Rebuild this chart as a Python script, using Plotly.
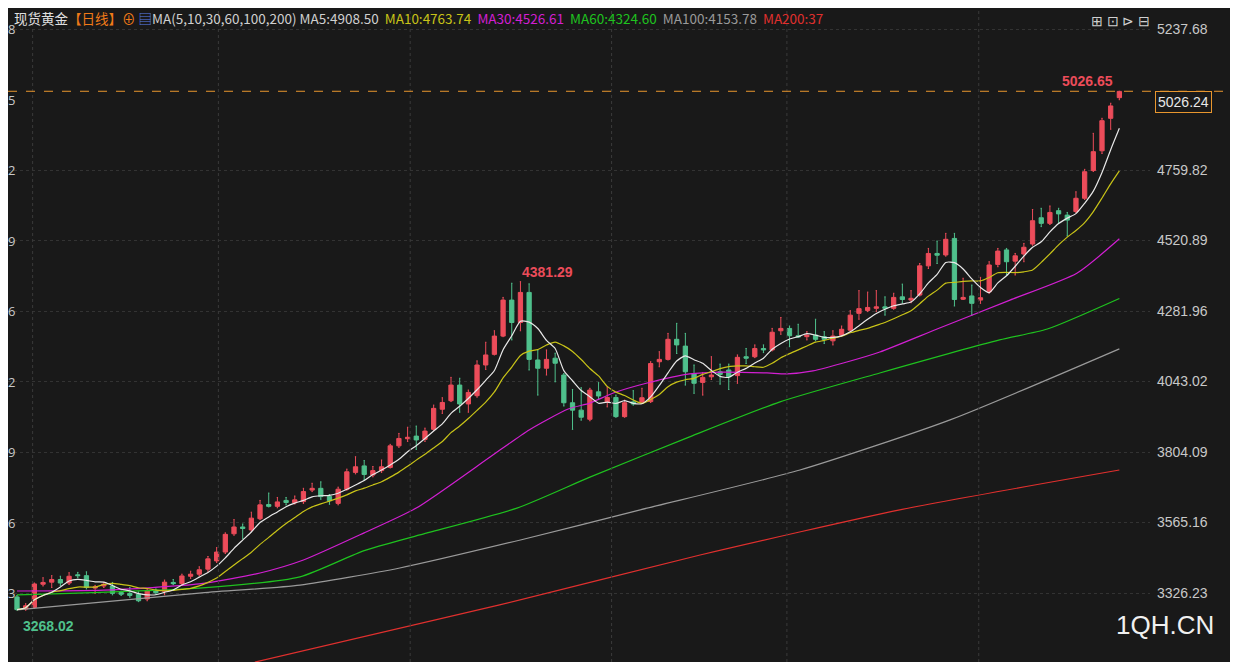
import plotly.graph_objects as go
import pandas as pd

opens = [3313,3272,3277,3356,3363,3372,3360,3388,3385,3343,3350,3350,3328,3325,3322,3306,3335,3332,3362,3358,
         3383,3390,3407,3435,3465,3527,3550,3540,3578,3626,3620,3640,3632,3636,3675,3681,3653,3630,3678,3735,
         3757,3726,3741,3752,3825,3849,3858,3847,3881,3949,3978,4031,3967,3995,4099,4135,4197,4319,4243,4345,
         4116,4088,4122,4065,3971,3946,3915,4008,3974,3989,3924,3974,3971,3975,4110,4118,4186,4163,4070,4040,
         4059,4076,4082,4063,4127,4127,4155,4150,4215,4223,4198,4195,4200,4195,4181,4200,4217,4274,4284,4291,
         4296,4291,4330,4319,4336,4435,4477,4472,4528,4322,4333,4319,4347,4440,4489,4451,4475,4509,4598,4579,
         4622,4607,4619,4664,4758,4825,4935,5005]
highs = [3318,3290,3360,3378,3385,3383,3395,3396,3398,3352,3362,3362,3333,3345,3330,3340,3340,3370,3372,3390,
         3400,3415,3450,3480,3530,3575,3560,3600,3640,3665,3650,3650,3655,3681,3698,3703,3660,3685,3746,3788,
         3775,3755,3777,3830,3867,3888,3892,3885,3963,3988,4057,4054,4014,4113,4176,4215,4328,4376,4381.29,4374,
         4150,4150,4139,4070,4016,4022,4020,4039,4025,3997,3980,4012,4020,4110,4144,4206,4240,4206,4099,4073,
         4127,4102,4102,4133,4155,4167,4167,4223,4260,4231,4237,4212,4254,4212,4215,4231,4283,4351,4346,4351,
         4330,4342,4373,4351,4443,4494,4519,4545,4545,4393,4370,4396,4449,4494,4494,4477,4511,4626,4630,4638,
         4630,4616,4686,4762,4884,4935,4986,5026.65]
lows = [3268.02,3268,3275,3350,3345,3352,3355,3378,3340,3325,3345,3320,3318,3312,3297,3300,3322,3320,3355,3355,
        3376,3385,3400,3430,3460,3522,3510,3535,3575,3618,3615,3625,3628,3630,3670,3644,3627,3625,3675,3730,
        3709,3720,3735,3750,3820,3840,3813,3840,3878,3935,3975,3939,3939,3990,4084,4133,4195,4184,4215,4082,
        3997,4065,4042,3960,3881,3912,3910,3985,3957,3922,3922,3963,3969,3972,4093,4116,4138,4031,4003,3997,
        4050,4034,4016,4037,4104,4124,4141,4147,4203,4161,4193,4184,4181,4172,4167,4197,4214,4254,4280,4280,
        4268,4288,4310,4310,4333,4426,4443,4468,4299,4321,4268,4308,4342,4432,4404,4404,4449,4505,4568,4575,
        4579,4536,4616,4660,4755,4816,4898,4998]
closes = [3270,3283,3357,3362,3372,3360,3383,3385,3345,3347,3356,3325,3322,3318,3300,3335,3327,3363,3358,3384,
          3390,3405,3442,3465,3525,3550,3545,3580,3625,3620,3635,3633,3642,3670,3681,3653,3639,3678,3737,3754,
          3728,3741,3754,3825,3850,3854,3845,3875,3952,3972,4031,3967,4006,4099,4133,4197,4319,4243,4345,4118,
          4088,4118,4105,3971,3946,3922,4014,3994,3989,3924,3971,3967,3988,4104,4118,4186,4167,4076,4037,4057,
          4065,4067,4059,4125,4122,4155,4150,4210,4223,4198,4194,4200,4186,4186,4197,4220,4268,4290,4294,4296,
          4291,4328,4321,4325,4435,4477,4471,4525,4321,4328,4308,4327,4438,4485,4449,4469,4498,4588,4579,4616,
          4611,4590,4664,4754,4822,4927,4977,5026.24]

ma30_x = [0,10,21,28,33,40,46,54.5,59,63.5,66,68.7,72.6,77.5,81.3,86.4,88.7,91.7,95.6,99.4,106,114.4,122.1,127]
ma30_y = [3333,3336,3357,3394,3438,3530,3614,3787,3879,3950,3970,4004,4038,4069,4075,4072,4069,4079,4109,4143,4221,4319,4410,4526.61]
ma60_x = [0,21,32.6,40,46.4,57.6,66,77.2,87.9,99.4,113.2,118.7,127]
ma60_y = [3320,3343,3381,3470,3523,3614,3719,3852,3974,4072,4184,4221,4324.60]
ma100_x = [0,21,32.6,44.1,58,71.8,90.2,107.5,127]
ma100_y = [3269,3326,3353,3411,3506,3608,3743,3913,4153.78]
ma200_x = [27.4,55.6,78.7,101.7,127]
ma200_y = [3092,3286,3455,3608,3743]

tick_vals = [5237.68,4759.82,4520.89,4281.96,4043.02,3804.09,3565.16,3326.23]
all_ticks = [5237.68,4998.75,4759.82,4520.89,4281.96,4043.02,3804.09,3565.16,3326.23]
vgrid = [1.8,23.2,45.3,68.5,88.7,110.8]

idx = list(range(len(closes)))
s = pd.Series(closes)
ma5 = s.rolling(5, min_periods=1).mean()
ma10 = s.rolling(10, min_periods=1).mean()

W, H, R = 1230, 654, 88
PW = W - R
def px(x):  # page px -> paper x
    return (x - 8) / PW
def py(y):
    return 1 - (y - 8) / H

RED = "#ec4c5a"
GRN = "#4fc08c"
fig = go.Figure()
fig.add_trace(go.Candlestick(x=idx, open=opens, high=highs, low=lows, close=closes,
    increasing=dict(line=dict(color=RED, width=1), fillcolor=RED),
    decreasing=dict(line=dict(color=GRN, width=1), fillcolor=GRN), whiskerwidth=0.3))
for xs, ys, c in [(ma200_x, ma200_y, "#e0302e"), (ma100_x, ma100_y, "#9a9a9a"), (ma60_x, ma60_y, "#1fc21f"),
                  (ma30_x, ma30_y, "#d21fd2"), (idx, ma10, "#c8c318"), (idx, ma5, "#e8e8e8")]:
    fig.add_trace(go.Scatter(x=xs, y=ys, mode="lines", line=dict(color=c, width=1.2, shape="spline", smoothing=0.6),
                             hoverinfo="skip"))

shapes = [dict(type="line", xref="x", yref="paper", x0=v, x1=v, y0=0, y1=1,
               line=dict(color="#3a3a3a", width=1, dash="dot")) for v in vgrid]
shapes.append(dict(type="line", xref="paper", yref="y", x0=0, x1=1.077, y0=5026.65, y1=5026.65,
                   line=dict(color="#e8962e", width=1, dash="dash")))
ann = []
for t in all_ticks:
    ann.append(dict(x=0, xref="paper", y=t, yref="y", xanchor="left", text=f"{t:.2f}"[-1],
                    showarrow=False, font=dict(color="#c8c8c8", size=13), xshift=-2))
hdr = ('<span style="color:#e0e0e0">现货黄金</span><span style="color:#f07a18">【日线】⊕</span> '
       '<span style="color:#5b7fe8">▤</span><span style="color:#d0d0d0">MA(5,10,30,60,100,200) MA5:4908.50</span>  '
       '<span style="color:#c8c318">MA10:4763.74</span>  <span style="color:#d21fd2">MA30:4526.61</span>  '
       '<span style="color:#1fc21f">MA60:4324.60</span>  <span style="color:#9a9a9a">MA100:4153.78</span>  '
       '<span style="color:#e0302e">MA200:37</span>')
ann += [
    dict(x=px(12), xref="paper", y=py(18), yref="paper", text=hdr, showarrow=False, xanchor="left", yanchor="middle",
         font=dict(size=13.5, family="Noto Sans CJK SC")),
    dict(x=0, y=3268.02, text="<b>3268.02</b>", showarrow=False, xanchor="left", yanchor="top", yshift=-6, xshift=4,
         font=dict(color=GRN, size=14, family="Arial")),
    dict(x=58, y=4381.29, text="<b>4381.29</b>", showarrow=False, xanchor="left", yanchor="bottom", xshift=0,
         font=dict(color=RED, size=14, family="Arial")),
    dict(x=127, y=5026.65, text="<b>5026.65</b>", showarrow=False, xanchor="right", yanchor="bottom", xshift=-4,
         font=dict(color=RED, size=14, family="Arial")),
    dict(x=1.004, xref="paper", y=4990, text="5026.24", showarrow=False, xanchor="left",
         bordercolor="#e8962e", borderwidth=1, bgcolor="#1a1a1a", borderpad=2,
         font=dict(color="#e8e8e8", size=14, family="Arial")),
    dict(x=px(1152), xref="paper", y=py(9), yref="paper", text="⊞ ⊡ ⊳ ⊟", showarrow=False, xanchor="right",
         yanchor="top", font=dict(color="#d0d0d0", size=14)),
    dict(x=px(1114), xref="paper", y=py(625), yref="paper", text="1QH.CN", showarrow=False, xanchor="left",
         yanchor="middle", font=dict(color="#f0f0f0", size=26, family="Arial")),
]

fig.update_layout(width=W, height=H, margin=dict(l=0, r=R, t=0, b=0),
    paper_bgcolor="#191919", plot_bgcolor="#191919", showlegend=False,
    shapes=shapes, annotations=ann,
    xaxis=dict(range=[-9/8.68, -9/8.68 + PW/8.68], showgrid=False, showticklabels=False, zeroline=False,
               rangeslider=dict(visible=False)),
    yaxis=dict(range=[3092.4, 5308.9], side="right", tickvals=tick_vals, ticktext=[f"{t:.2f}" for t in tick_vals],
               tickfont=dict(color="#c8c8c8", size=14, family="Arial"), gridcolor="#333333", griddash="dot",
               zeroline=False, ticklen=0, ticklabelstandoff=6))
fig.write_html("out.html")
